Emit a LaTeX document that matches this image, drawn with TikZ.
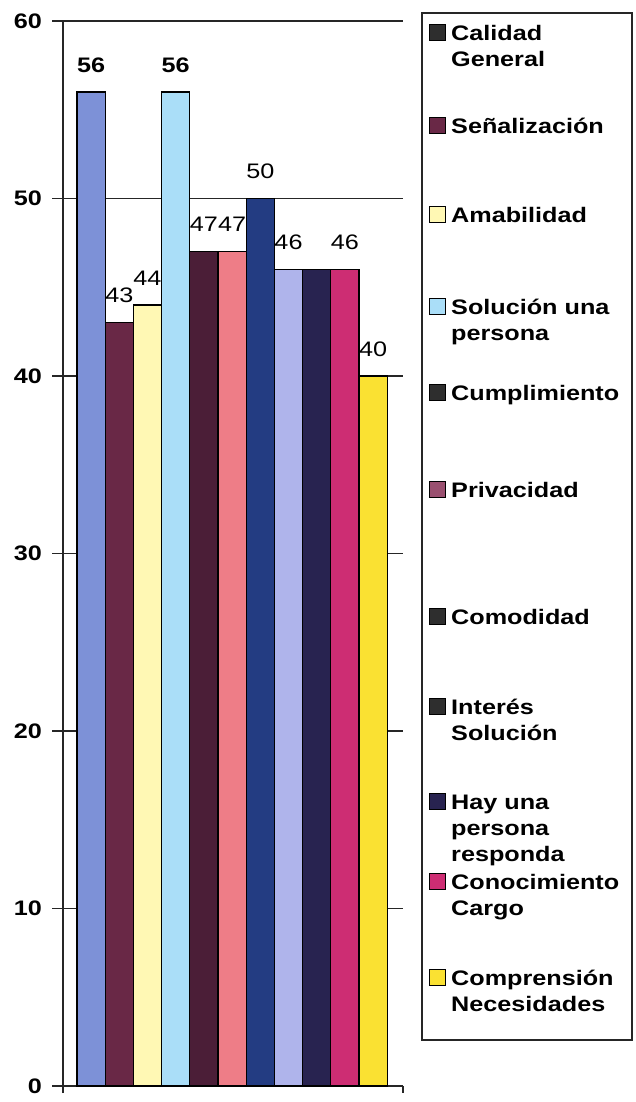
\documentclass[tikz,border=0pt]{standalone}
\usepackage{fontspec}
\setmainfont{Liberation Sans}[FakeStretch=1.2]
\usetikzlibrary{calc}
\usepackage{xcolor}

% bar colours
\definecolor{calidad}{HTML}{7D91D7}
\definecolor{senal}{HTML}{692846}
\definecolor{amable}{HTML}{FFF8B4}
\definecolor{soluc}{HTML}{AADEF8}
\definecolor{cumpl}{HTML}{4B1E37}
\definecolor{privac}{HTML}{EE7D87}
\definecolor{comod}{HTML}{233C82}
\definecolor{interes}{HTML}{AFB4EB}
\definecolor{hayuna}{HTML}{282350}
\definecolor{conoc}{HTML}{CD2D73}
\definecolor{compren}{HTML}{FAE132}
% legend keys as printed
\definecolor{keydark}{HTML}{2E2E2E}
\definecolor{keymauve}{HTML}{9A5070}

\tikzset{
  chartfont/.style={font=\fontsize{21}{26}\selectfont\bfseries},
  ticklabel/.style={chartfont, anchor=east, inner sep=0pt},
  barlabel/.style={font=\fontsize{21}{26}\selectfont, inner sep=0pt},
  legmark/.style={draw, line width=1pt, minimum size=16pt, inner sep=0pt},
  legtext/.style={chartfont, anchor=base west, align=left, inner sep=0pt},
  grid line/.style={line width=1.3pt, black!85}
}

\begin{document}
\begin{tikzpicture}[x=1pt,y=1pt]

        \useasboundingbox (0,0) rectangle (636,1102);

        \begin{scope}[shift={(63,16)}, y=17.75pt]

        % Gridlines and ticks
        \foreach \v in {0,10,...,60}
        {
          \draw[grid line] (-11,\v) -- (340,\v);
          \node[ticklabel] (t\v) at (-21,\v) {\v};
        }

        % Axis
        \draw[grid line] (0,-0.4) -- (0,60);
        \draw[grid line] (340,0) -- (340,-0.4);

        % Bars
        \foreach \v/\c/\lab [count=\i] in {56/calidad/\textbf{56}, 43/senal/43,
            44/amable/44, 56/soluc/\textbf{56}, 47/cumpl/47, 47/privac/47,
            50/comod/50, 46/interes/46, 46/hayuna/{}, 46/conoc/46, 40/compren/40}
        {
          \draw[line width=1.2pt, fill=\c] ({14+28.2*(\i-1)},0) rectangle ({14+28.2*\i},\v);
          \node[barlabel] (b\i) at ({14+28.2*(\i-0.5)},\v+1.52) {\lab};
        }

        \end{scope}

        % Legend (first baseline / lines / key colour / text)
        \draw[line width=1.5pt, black!85] (422,62) rectangle (632,1089);
        \foreach \yb/\n/\c/\txt [count=\i] in {40.5/2/keydark/{Calidad\\General},
            133.5/1/senal/Señalización, 222.5/1/amable/Amabilidad,
            314.5/2/soluc/{Solución una\\persona}, 400.5/1/keydark/Cumplimiento,
            497.5/1/keymauve/Privacidad, 624.5/1/keydark/Comodidad,
            714.5/2/keydark/{Interés\\Solución}, 809.5/3/hayuna/{Hay una\\persona\\responda},
            889.5/2/conoc/{Conocimiento\\Cargo}, 985.5/2/compren/{Comprensión\\Necesidades}}
        {
          \node[legmark, fill=\c] (m\i) at (437,1102-\yb+7.5) {};
          \node[legtext] (l\i) at (451,1102-\yb-26*\n+26) {\txt};
        }

\end{tikzpicture}
\end{document}
